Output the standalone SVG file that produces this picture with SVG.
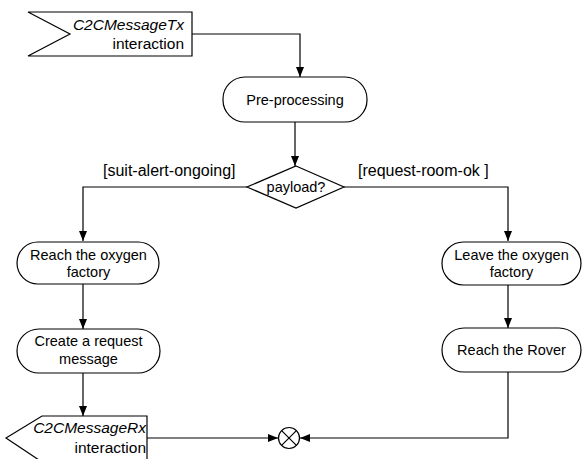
<svg xmlns="http://www.w3.org/2000/svg" width="582" height="459" viewBox="0 0 582 459">
  <style>
    .shape { fill: #fff; stroke: #000; stroke-width: 1.2; }
    .edge { fill: none; stroke: #000; stroke-width: 1.2; }
    text { font-family: "Liberation Sans", Arial, Helvetica, sans-serif; fill: #000; }
    .node { font-size: 14.5px; text-anchor: middle; }
    .sig { font-size: 15.5px; text-anchor: end; }
    .guard { font-size: 16px; }
    .it { font-style: italic; }
  </style>
  <defs>
    <marker id="arrow" viewBox="0 0 10 8" refX="10" refY="4" markerWidth="10" markerHeight="8" markerUnits="userSpaceOnUse" orient="auto">
      <path d="M0,0 L10,4 L0,8 Z" fill="#000"/>
    </marker>
  </defs>

  <g id="connectors">
    <path class="edge" d="M192,34 H300 V77" marker-end="url(#arrow)"/>
    <path class="edge" d="M295,122 V166" marker-end="url(#arrow)"/>
    <path class="edge" d="M247,187 H83 V241" marker-end="url(#arrow)"/>
    <path class="edge" d="M344,187 H508 V241" marker-end="url(#arrow)"/>
    <path class="edge" d="M83,284 V329" marker-end="url(#arrow)"/>
    <path class="edge" d="M83,373 V416" marker-end="url(#arrow)"/>
    <path class="edge" d="M508,285 V328" marker-end="url(#arrow)"/>
    <path class="edge" d="M147,438 H278" marker-end="url(#arrow)"/>
    <path class="edge" d="M508,372 V438 H300" marker-end="url(#arrow)"/>
    <text class="guard" x="103" y="176">[suit-alert-ongoing]</text>
    <text class="guard" x="358" y="176">[request-room-ok ]</text>
  </g>

  <g id="tx-interaction">
    <path class="shape" d="M28,12 H192 V56 H28 L70,34 Z"/>
    <text class="sig it" x="184" y="30">C2CMessageTx</text>
    <text class="sig" x="184" y="49">interaction</text>
  </g>

  <g id="pre-processing">
    <rect class="shape" x="223" y="77" width="144" height="45" rx="22" ry="22"/>
    <text class="node" x="295" y="105">Pre-processing</text>
  </g>

  <g id="payload-decision">
    <path class="shape" d="M296,166 L344,187 L296,208 L247,187 Z"/>
    <text class="node" x="296" y="192">payload?</text>
  </g>

  <g id="reach-oxygen-factory">
    <rect class="shape" x="17" y="242" width="142" height="42" rx="21" ry="21"/>
    <text class="node" x="88.5" y="260">Reach the oxygen</text>
    <text class="node" x="88.5" y="277">factory</text>
  </g>

  <g id="create-request">
    <rect class="shape" x="17" y="329" width="143" height="44" rx="22" ry="22"/>
    <text class="node" x="88.5" y="346">Create a request</text>
    <text class="node" x="88.5" y="364">message</text>
  </g>

  <g id="rx-interaction">
    <path class="shape" d="M42,416 H147 V462 H42 L6,438 Z"/>
    <text class="sig it" x="146" y="433">C2CMessageRx</text>
    <text class="sig" x="146" y="453">interaction</text>
  </g>

  <g id="leave-oxygen-factory">
    <rect class="shape" x="442" y="242" width="139" height="43" rx="21.5" ry="21.5"/>
    <text class="node" x="511.5" y="260">Leave the oxygen</text>
    <text class="node" x="511.5" y="277">factory</text>
  </g>

  <g id="reach-rover">
    <rect class="shape" x="442" y="328" width="139" height="44" rx="22" ry="22"/>
    <text class="node" x="511.5" y="355">Reach the Rover</text>
  </g>

  <g id="flow-final">
    <circle class="shape" cx="289" cy="438" r="10.5"/>
    <path class="edge" d="M281.6,430.6 L296.4,445.4 M296.4,430.6 L281.6,445.4"/>
  </g>
</svg>
